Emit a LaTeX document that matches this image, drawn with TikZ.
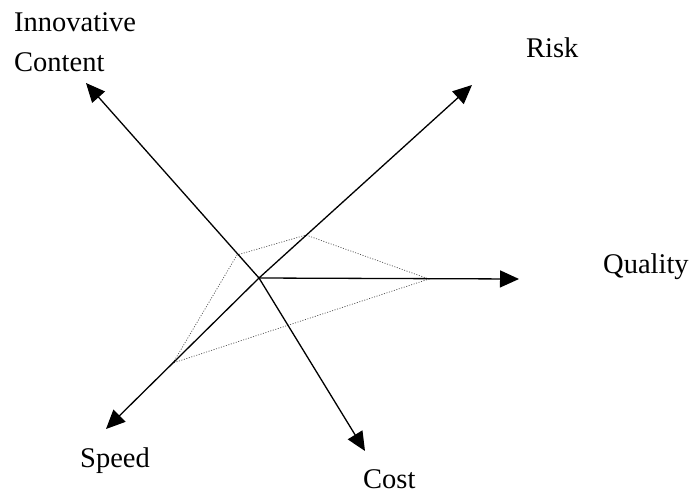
\documentclass[tikz,border=0pt]{standalone}
\usepackage{fontspec}
\setmainfont{Liberation Serif}
\usetikzlibrary{arrows.meta}

\begin{document}
\begin{tikzpicture}[
        x=1pt, y=-1pt,
        axis/.style={line width=1.3pt, -{Triangle[length=19pt, width=17pt]}}, % Axis arrows
        profile/.style={line width=0.7pt, dash pattern=on 1pt off 1.6pt, black!70}, % Dotted outline
        label/.style={inner sep=0pt, anchor=base west, align=left, font=\fontsize{28.5}{40}\selectfont} % Axis labels
        ]
        \useasboundingbox (0,0) rectangle (693,493);

        % Define points
        \coordinate (centre) at (259,278);
        \coordinate (innovTip) at (86,83);
        \coordinate (riskTip) at (472,85);
        \coordinate (qualTip) at (519,279);
        \coordinate (speedTip) at (106,429);
        \coordinate (costTip) at (365,451);

        \coordinate (innovPt) at (237,255);
        \coordinate (riskPt) at (306,235);
        \coordinate (qualPt) at (429,279);
        \coordinate (speedPt) at (173,363);

        % Define labels (base = last line)
        \node (innov) [label] at (14,71) {Innovative\\Content};
        \node (risk) [label] at (526,57) {Risk};
        \node (qual) [label] at (603,273) {Quality};
        \node (speed) [label] at (80,467) {Speed};
        \node (cost) [label] at (363,488) {Cost};

        % Draw profile
        \draw[profile] (speedPt) -- (innovPt) -- (riskPt) -- (qualPt) -- cycle;

        % Draw axes
        \draw[axis] (centre) -- (innovTip);
        \draw[axis] (centre) -- (riskTip);
        \draw[axis] (centre) -- (qualTip);
        \draw[axis] (centre) -- (speedTip);
        \draw[axis] (centre) -- (costTip);

\end{tikzpicture}
\end{document}
